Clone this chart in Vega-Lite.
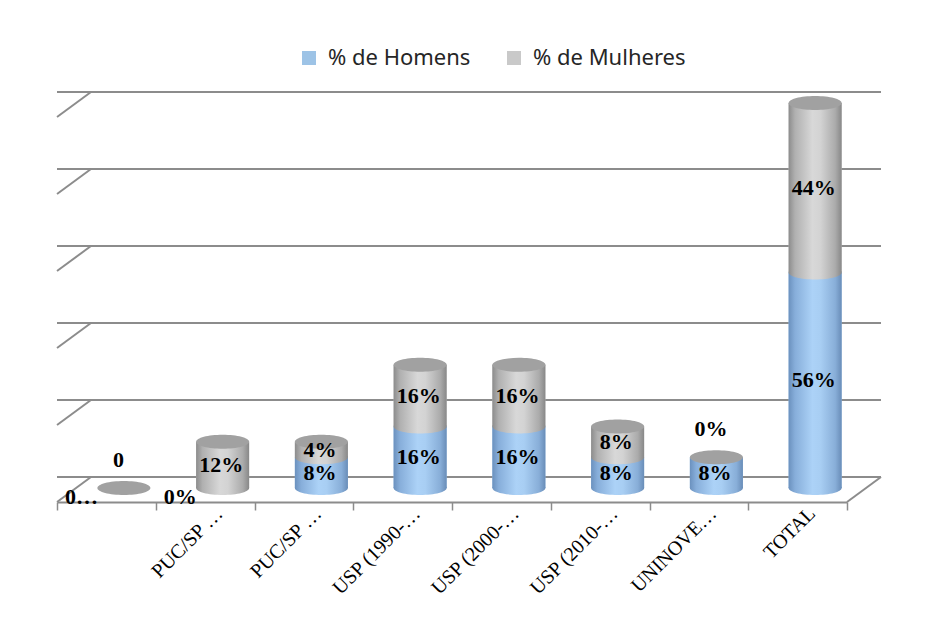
{
  "$schema": "https://vega.github.io/schema/vega-lite/v6.json",
  "width": 790,
  "height": 385,
  "autosize": {"type": "none"},
  "padding": {"left": 57, "top": 103, "right": 102, "bottom": 145},
  "background": "white",
  "config": {
    "view": {"stroke": null},
    "legend": {"padding": 0}
  },
  "datasets": {
    "dados": [
      {"id": 1, "sexo": "% de Homens", "ordem": 0, "valor": 0, "rotulo": "0…"},
      {"id": 1, "sexo": "% de Mulheres", "ordem": 1, "valor": 0, "rotulo": "0"},
      {"id": 2, "sexo": "% de Homens", "ordem": 0, "valor": 0, "rotulo": "0%"},
      {"id": 2, "sexo": "% de Mulheres", "ordem": 1, "valor": 12, "rotulo": "12%"},
      {"id": 3, "sexo": "% de Homens", "ordem": 0, "valor": 8, "rotulo": "8%"},
      {"id": 3, "sexo": "% de Mulheres", "ordem": 1, "valor": 4, "rotulo": "4%"},
      {"id": 4, "sexo": "% de Homens", "ordem": 0, "valor": 16, "rotulo": "16%"},
      {"id": 4, "sexo": "% de Mulheres", "ordem": 1, "valor": 16, "rotulo": "16%"},
      {"id": 5, "sexo": "% de Homens", "ordem": 0, "valor": 16, "rotulo": "16%"},
      {"id": 5, "sexo": "% de Mulheres", "ordem": 1, "valor": 16, "rotulo": "16%"},
      {"id": 6, "sexo": "% de Homens", "ordem": 0, "valor": 8, "rotulo": "8%"},
      {"id": 6, "sexo": "% de Mulheres", "ordem": 1, "valor": 8, "rotulo": "8%"},
      {"id": 7, "sexo": "% de Homens", "ordem": 0, "valor": 8, "rotulo": "8%"},
      {"id": 7, "sexo": "% de Mulheres", "ordem": 1, "valor": 0, "rotulo": "0%"},
      {"id": 8, "sexo": "% de Homens", "ordem": 0, "valor": 56, "rotulo": "56%"},
      {"id": 8, "sexo": "% de Mulheres", "ordem": 1, "valor": 44, "rotulo": "44%"}
    ],
    "grade": [{"g": 0}, {"g": 20}, {"g": 40}, {"g": 60}, {"g": 80}, {"g": 100}]
  },
  "resolve": {"scale": {"y": "independent"}},
  "layer": [
    {
      "data": {"name": "grade"},
      "layer": [
        {
          "mark": {"type": "rule", "color": "#8C8C8C", "strokeWidth": 2, "xOffset": 34, "x2Offset": 34},
          "encoding": {
            "y": {"field": "g", "type": "quantitative", "axis": null,
                  "scale": {"domain": [-2.857, 97.143], "nice": false, "zero": false}}
          }
        },
        {
          "mark": {"type": "rule", "color": "#8C8C8C", "strokeWidth": 2, "yOffset": 25},
          "encoding": {
            "x": {"value": 0},
            "x2": {"value": 34},
            "y": {"field": "g", "type": "quantitative", "axis": null},
            "y2": {"field": "g"}
          }
        },
        {
          "transform": [{"filter": "datum.g == 0"}],
          "mark": {"type": "rule", "color": "#8C8C8C", "strokeWidth": 2, "yOffset": 25, "x2Offset": 34},
          "encoding": {
            "x": {"value": {"expr": "width"}},
            "x2": {"value": {"expr": "width"}},
            "y": {"field": "g", "type": "quantitative", "axis": null},
            "y2": {"field": "g"}
          }
        }
      ]
    },
    {
      "data": {"name": "dados"},
      "transform": [
        {"stack": "valor", "groupby": ["id"], "sort": [{"field": "ordem", "order": "ascending"}], "as": ["v0", "v1"]},
        {"calculate": "(datum.v0 + datum.v1) / 2", "as": "meio"}
      ],
      "layer": [
        {
          "mark": {"type": "bar", "width": 53, "xOffset": 17.5},
          "encoding": {
            "x": {
              "field": "id", "type": "ordinal", "title": null,
              "scale": {"paddingInner": 0, "paddingOuter": 0},
              "axis": {
                "labelExpr": "['', 'PUC/SP …', 'PUC/SP …', 'USP (1990-…', 'USP (2000-…', 'USP (2010-…', 'UNINOVE…', 'TOTAL'][datum.value - 1]",
                "labelAngle": -45, "labelAlign": "right", "labelBaseline": "middle",
                "labelFont": "Liberation Serif", "labelFontSize": 20, "labelColor": "#000000",
                "labelPadding": 0, "labelOffset": 14, "labelLimit": 300, "labelOverlap": false,
                "offset": 14, "tickBand": "extent", "tickSize": 8, "tickColor": "#8C8C8C", "tickWidth": 1.5,
                "domainColor": "#8C8C8C", "domainWidth": 2, "grid": false
              }
            },
            "y": {"field": "v0", "type": "quantitative", "axis": null,
                  "scale": {"domain": [0, 100], "nice": false}},
            "y2": {"field": "v1"},
            "color": {
              "field": "sexo", "type": "nominal",
              "scale": {"domain": ["% de Homens", "% de Mulheres"], "range": ["#9DC3E6", "#C9C9C9"]},
              "legend": {
                "title": null, "orient": "none", "legendX": 241, "legendY": -56, "direction": "horizontal",
                "symbolType": "square", "symbolSize": 196, "symbolStrokeWidth": 0,
                "labelFont": "Noto Sans", "labelFontSize": 22, "labelColor": "#262626", "labelOffset": 8,
                "columnPadding": 32
              }
            }
          }
        },
        {
          "transform": [{"filter": "datum.sexo == '% de Homens'"}],
          "mark": {"type": "bar", "width": 53, "xOffset": 17.5,
                   "fill": {"gradient": "linear", "x1": 0, "y1": 0, "x2": 1, "y2": 0,
                            "stops": [{"offset": 0, "color": "#6B91BE"}, {"offset": 0.12, "color": "#87AEDA"},
                                      {"offset": 0.45, "color": "#ACD2F7"}, {"offset": 0.6, "color": "#A8CEF3"},
                                      {"offset": 0.88, "color": "#88AED8"}, {"offset": 1, "color": "#698DB8"}]}},
          "encoding": {
            "x": {"field": "id", "type": "ordinal", "title": null},
            "y": {"field": "v0", "type": "quantitative"},
            "y2": {"field": "v1"}
          }
        },
        {
          "transform": [{"filter": "datum.sexo == '% de Mulheres'"}],
          "mark": {"type": "bar", "width": 53, "xOffset": 17.5,
                   "fill": {"gradient": "linear", "x1": 0, "y1": 0, "x2": 1, "y2": 0,
                            "stops": [{"offset": 0, "color": "#8C8C8C"}, {"offset": 0.12, "color": "#B0B0B0"},
                                      {"offset": 0.45, "color": "#D8D8D8"}, {"offset": 0.6, "color": "#D3D3D3"},
                                      {"offset": 0.88, "color": "#ABABAB"}, {"offset": 1, "color": "#888888"}]}},
          "encoding": {
            "x": {"field": "id", "type": "ordinal", "title": null},
            "y": {"field": "v0", "type": "quantitative"},
            "y2": {"field": "v1"}
          }
        },
        {
          "transform": [{"filter": "datum.sexo == '% de Homens' && datum.valor > 0"}],
          "mark": {"type": "point", "filled": true, "opacity": 1, "strokeWidth": 0, "xOffset": 17.5, "size": 2809,
                   "shape": "M-1,0A1,0.264,0,1,0,1,0A1,0.264,0,1,0,-1,0Z",
                   "fill": {"gradient": "linear", "x1": 0, "y1": 0, "x2": 1, "y2": 0,
                            "stops": [{"offset": 0, "color": "#6B91BE"}, {"offset": 0.12, "color": "#87AEDA"},
                                      {"offset": 0.45, "color": "#ACD2F7"}, {"offset": 0.6, "color": "#A8CEF3"},
                                      {"offset": 0.88, "color": "#88AED8"}, {"offset": 1, "color": "#698DB8"}]}},
          "encoding": {
            "x": {"field": "id", "type": "ordinal", "title": null},
            "y": {"field": "v0", "type": "quantitative"}
          }
        },
        {
          "transform": [{"filter": "datum.sexo == '% de Mulheres' && datum.valor > 0"}],
          "mark": {"type": "point", "filled": true, "opacity": 1, "strokeWidth": 0, "xOffset": 17.5, "size": 2809,
                   "shape": "M-1,0A1,0.264,0,1,0,1,0A1,0.264,0,1,0,-1,0Z",
                   "fill": {"gradient": "linear", "x1": 0, "y1": 0, "x2": 1, "y2": 0,
                            "stops": [{"offset": 0, "color": "#8C8C8C"}, {"offset": 0.12, "color": "#B0B0B0"},
                                      {"offset": 0.45, "color": "#D8D8D8"}, {"offset": 0.6, "color": "#D3D3D3"},
                                      {"offset": 0.88, "color": "#ABABAB"}, {"offset": 1, "color": "#888888"}]}},
          "encoding": {
            "x": {"field": "id", "type": "ordinal", "title": null},
            "y": {"field": "v0", "type": "quantitative"}
          }
        },
        {
          "transform": [{"filter": "datum.sexo == '% de Mulheres'"}],
          "mark": {"type": "point", "filled": true, "opacity": 1, "strokeWidth": 0, "xOffset": 17.5, "size": 2809,
                   "shape": "M-1,0A1,0.264,0,1,0,1,0A1,0.264,0,1,0,-1,0Z", "fill": "#A1A1A1"},
          "encoding": {
            "x": {"field": "id", "type": "ordinal", "title": null},
            "y": {"field": "v1", "type": "quantitative"}
          }
        },
        {
          "transform": [{"filter": "datum.valor > 0"}],
          "mark": {"type": "text", "font": "Liberation Serif", "fontWeight": "bold", "fontSize": 22,
                   "color": "#000000", "dx": 16, "baseline": "middle", "align": "center"},
          "encoding": {
            "x": {"field": "id", "type": "ordinal", "title": null},
            "y": {"field": "meio", "type": "quantitative"},
            "text": {"field": "rotulo"}
          }
        },
        {
          "transform": [{"filter": "datum.valor == 0 && datum.sexo == '% de Homens'"}],
          "mark": {"type": "text", "font": "Liberation Serif", "fontWeight": "bold", "fontSize": 22,
                   "color": "#000000", "dx": -25, "dy": 9, "baseline": "middle", "align": "center"},
          "encoding": {
            "x": {"field": "id", "type": "ordinal", "title": null},
            "y": {"field": "v0", "type": "quantitative"},
            "text": {"field": "rotulo"}
          }
        },
        {
          "transform": [{"filter": "datum.valor == 0 && datum.sexo == '% de Mulheres'"}],
          "mark": {"type": "text", "font": "Liberation Serif", "fontWeight": "bold", "fontSize": 22,
                   "color": "#000000", "dx": 12, "dy": -28, "baseline": "middle", "align": "center"},
          "encoding": {
            "x": {"field": "id", "type": "ordinal", "title": null},
            "y": {"field": "v1", "type": "quantitative"},
            "text": {"field": "rotulo"}
          }
        }
      ]
    }
  ]
}
